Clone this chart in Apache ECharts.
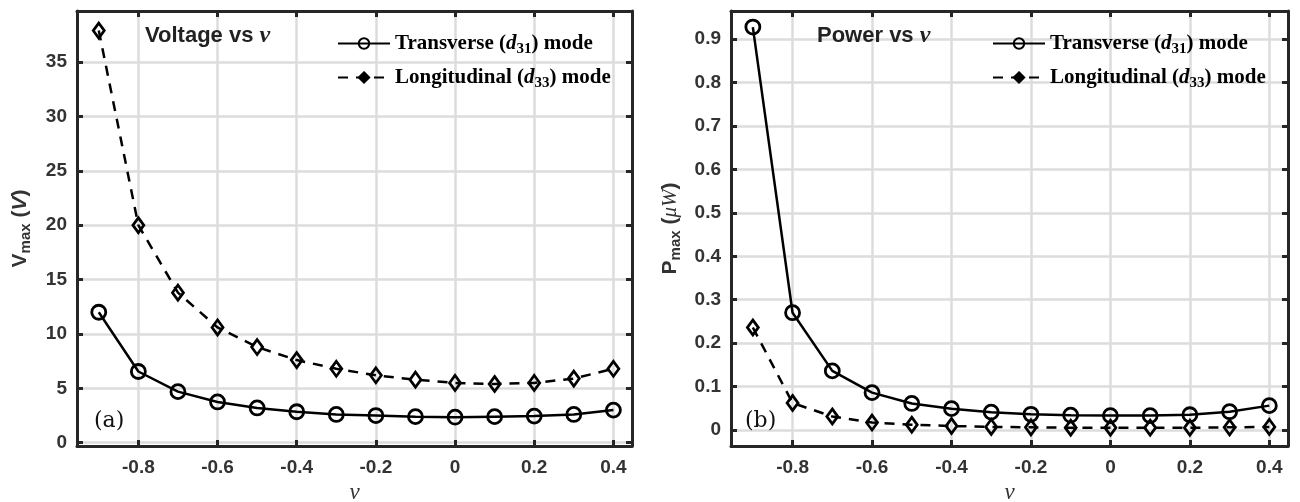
<!DOCTYPE html>
<html>
<head>
<meta charset="utf-8">
<script src="https://cdn.jsdelivr.net/npm/echarts@6/dist/echarts.min.js"></script>
<style>html,body{margin:0;padding:0;background:#fff}#c{width:1300px;height:502px}</style>
</head>
<body>
<div id="c"></div>
<script>
// ---- data ----
const nu = [-0.9, -0.8, -0.7, -0.6, -0.5, -0.4, -0.3, -0.2, -0.1, 0, 0.1, 0.2, 0.3, 0.4];
const vTrans = [12.0, 6.55, 4.7, 3.75, 3.2, 2.85, 2.6, 2.5, 2.4, 2.35, 2.4, 2.45, 2.6, 3.0];
const vLong = [37.9, 20.0, 13.8, 10.6, 8.8, 7.6, 6.8, 6.2, 5.8, 5.5, 5.4, 5.5, 5.9, 6.8];
const pTrans = [0.928, 0.27, 0.136, 0.086, 0.061, 0.049, 0.041, 0.036, 0.034, 0.033, 0.033, 0.035, 0.042, 0.056];
const pLong = [0.236, 0.062, 0.031, 0.017, 0.012, 0.009, 0.007, 0.006, 0.005, 0.005, 0.005, 0.005, 0.006, 0.007];
const xTicks = [-0.8, -0.6, -0.4, -0.2, 0, 0.2, 0.4];
const vTicks = [0, 5, 10, 15, 20, 25, 30, 35];
const pTicks = [0, 0.1, 0.2, 0.3, 0.4, 0.5, 0.6, 0.7, 0.8, 0.9];
const nameT = 'Transverse (d31) mode';
const nameL = 'Longitudinal (d33) mode';

const chart = echarts.init(document.getElementById('c'));
const AX = '#262626';
const SANS = 'Liberation Sans, Arial, sans-serif';
const SERIF = 'Liberation Serif, Times New Roman, serif';

function pairs(xs, ys) { return xs.map((x, i) => [x, ys[i]]); }

function mainX(gi, ticks) {
  return {
    type: 'value', gridIndex: gi, min: -0.955, max: 0.447, position: 'bottom',
    axisLine: { show: true, onZero: false, lineStyle: { color: AX, width: 3 } },
    axisTick: { show: true, inside: true, length: 6, customValues: ticks, lineStyle: { color: AX, width: 3 } },
    axisLabel: { customValues: ticks, color: '#333', fontFamily: SANS, fontWeight: 'bold', fontSize: 19, margin: 12 },
    splitLine: { show: true, lineStyle: { color: '#dcdcdc', width: 2.5 } },
    name: 'ν', nameLocation: 'middle', nameGap: 30,
    nameTextStyle: { fontFamily: SERIF, fontStyle: 'italic', fontSize: 23, color: '#333' }
  };
}
function mirrorX(gi, ticks) {
  return {
    type: 'value', gridIndex: gi, min: -0.955, max: 0.447, position: 'top',
    axisLine: { show: true, onZero: false, lineStyle: { color: AX, width: 3 } },
    axisTick: { show: true, inside: true, length: 6, customValues: ticks, lineStyle: { color: AX, width: 3 } },
    axisLabel: { show: false }, splitLine: { show: false }
  };
}
function mainY(gi, min, max, ticks, nameRich, nameGap) {
  return {
    type: 'value', gridIndex: gi, min: min, max: max, position: 'left',
    axisLine: { show: true, onZero: false, lineStyle: { color: AX, width: 3 } },
    axisTick: { show: true, inside: true, length: 6, customValues: ticks, lineStyle: { color: AX, width: 3 } },
    axisLabel: { customValues: ticks, color: '#333', fontFamily: SANS, fontWeight: 'bold', fontSize: 19, margin: 10 },
    splitLine: { show: true, lineStyle: { color: '#dcdcdc', width: 2.5 } },
    name: nameRich, nameLocation: 'middle', nameGap: nameGap,
    nameTextStyle: {
      color: '#333',
      rich: {
        b: { fontFamily: SANS, fontWeight: 'bold', fontSize: 21, color: '#333' },
        s: { fontFamily: SANS, fontWeight: 'bold', fontSize: 15, color: '#333', padding: [11, 0, 0, 0] },
        i: { fontFamily: SANS, fontWeight: 'bold', fontStyle: 'italic', fontSize: 21, color: '#333' },
        g: { fontFamily: SERIF, fontStyle: 'italic', fontSize: 21, color: '#333' }
      }
    }
  };
}
function mirrorY(gi, min, max, ticks) {
  return {
    type: 'value', gridIndex: gi, min: min, max: max, position: 'right',
    axisLine: { show: true, onZero: false, lineStyle: { color: AX, width: 3 } },
    axisTick: { show: true, inside: true, length: 6, customValues: ticks, lineStyle: { color: AX, width: 3 } },
    axisLabel: { show: false }, splitLine: { show: false }
  };
}
function seriesT(xi, yi, ys) {
  return {
    name: nameT, type: 'line', xAxisIndex: xi, yAxisIndex: yi, data: pairs(nu, ys),
    symbol: 'circle', symbolSize: 14, z: 3,
    lineStyle: { color: '#000', width: 2.5 },
    itemStyle: { color: 'transparent', borderColor: '#000', borderWidth: 2.8 }
  };
}
function seriesL(xi, yi, ys) {
  return {
    name: nameL, type: 'line', xAxisIndex: xi, yAxisIndex: yi, data: pairs(nu, ys),
    symbol: 'diamond', symbolSize: [11, 15], z: 2,
    lineStyle: { color: '#000', width: 2.5, type: [10, 8] },
    itemStyle: { color: 'transparent', borderColor: '#000', borderWidth: 2.8 }
  };
}
function legendAt(left, top) {
  return {
    orient: 'vertical', left: left, top: top, itemWidth: 52, itemHeight: 13, itemGap: 10,
    data: [{ name: nameT }, { name: nameL, itemStyle: { color: '#000' } }],
    formatter: function (n) {
      return n === nameT ? 'Transverse ({i|d}{s|31}) mode' : 'Longitudinal ({i|d}{s|33}) mode';
    },
    textStyle: {
      fontFamily: SERIF, fontWeight: 'bold', fontSize: 21, color: '#000',
      rich: {
        i: { fontFamily: SERIF, fontWeight: 'bold', fontStyle: 'italic', fontSize: 21, color: '#000' },
        s: { fontFamily: SERIF, fontWeight: 'bold', fontSize: 15, color: '#000', padding: [12, 0, 0, 0] }
      }
    },
    selectedMode: false
  };
}
const titleRich = {
  b: { fontFamily: SANS, fontWeight: 'bold', fontSize: 22, color: '#222' },
  n: { fontFamily: SERIF, fontStyle: 'italic', fontSize: 24, color: '#222' }
};
const panelRich = { fontFamily: 'DejaVu Serif, serif', fontSize: 22, color: '#111', fontWeight: 'normal' };

chart.setOption({
  animation: false,
  backgroundColor: '#fff',
  title: [
    { text: '{b|Voltage vs }{n|ν}', left: 140, top: 19, textStyle: { rich: titleRich } },
    { text: '{b|Power vs }{n|ν}', left: 812, top: 19, textStyle: { rich: titleRich } },
    { text: '(a)', left: 89, top: 405, textStyle: panelRich },
    { text: '(b)', left: 740, top: 405, textStyle: panelRich }
  ],
  legend: [legendAt(332, 28), legendAt(987, 28)],
  grid: [
    { left: 77, top: 11, width: 555, height: 435, outerBoundsMode: 'none', containLabel: false },
    { left: 731, top: 11, width: 557, height: 435, outerBoundsMode: 'none', containLabel: false }
  ],
  xAxis: [mainX(0, xTicks), mainX(1, xTicks), mirrorX(0, xTicks), mirrorX(1, xTicks)],
  yAxis: [
    mainY(0, -0.3, 39.7, vTicks, '{b|V}{s|max}{b| (}{i|V}{b|)}', 44),
    mainY(1, -0.037, 0.965, pTicks, '{b|P}{s|max}{b| (}{g|μW}{b|)}', 48),
    mirrorY(0, -0.3, 39.7, vTicks),
    mirrorY(1, -0.037, 0.965, pTicks)
  ],
  series: [
    seriesT(0, 0, vTrans), seriesL(0, 0, vLong),
    seriesT(1, 1, pTrans), seriesL(1, 1, pLong)
  ]
});
</script>
</body>
</html>
